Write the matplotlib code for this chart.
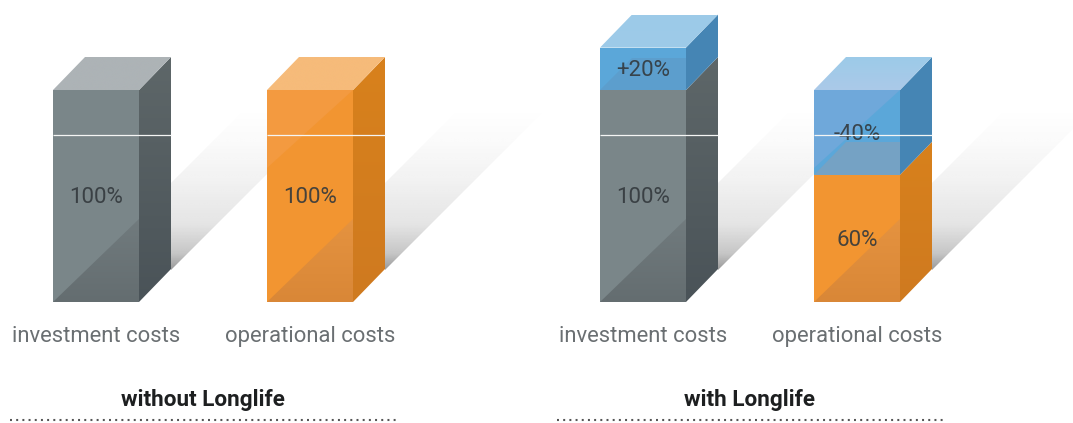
import numpy as np
import matplotlib
matplotlib.use("Agg")
import matplotlib.pyplot as plt
from matplotlib.patches import Polygon
from matplotlib.colors import to_rgb

# ---- data ----
group_titles = ["without Longlife", "with Longlife"]
categories = ["investment costs", "operational costs"]
without_base = [100, 100]
without_change = [0, 0]
with_base = [100, 60]
with_change = [20, 40]
with_change_labels = ["+20%", "-40%"]

# ---- layout (pixel-like x, percent y) ----
W, H = 1073, 423
PX_PER_PCT = 2.12
BASE_PY = 302
GROUP_LEFT = [[53, 267], [600, 814]]
BAR_W = 86
DX = 32
DY = 33 / PX_PER_PCT
TEXT_DY = 1.6 / PX_PER_PCT


def py(p):
    return (BASE_PY - p) / PX_PER_PCT


fig = plt.figure(figsize=(W / 100, H / 100), dpi=100, facecolor="white")
ax = fig.add_axes([0, 0, 1, 1])
ax.axis("off")

FONT = ["Roboto", "DejaVu Sans"]
GRAY = dict(front="#7a8689", low=("#717b7e", "#646d70"), side=("#5e6769", "#4a5358"),
            top="#adb3b6", hi=None)
ORANGE = dict(front="#f29531", low=("#e59340", "#d98737"), side=("#d8811c", "#cf7a20"),
              top="#f6bb7a", hi="#f39a40")
BLUE_FRONT = "#5ba7d9"
BLUE_SIDE = "#4585b4"
BLUE_TOP = "#9ccbe9"


def poly(verts, color, z):
    ax.add_patch(Polygon(verts, closed=True, fc=color, ec="none", lw=0, zorder=z))


def grad(verts, c_top, c_bot, z):
    """vertical colour gradient clipped to a polygon"""
    verts = np.array(verts, float)
    y0, y1 = verts[:, 1].min(), verts[:, 1].max()
    x0, x1 = verts[:, 0].min(), verts[:, 0].max()
    t = np.linspace(0, 1, 200)[:, None]
    a, b = np.array(to_rgb(c_top)), np.array(to_rgb(c_bot))
    img = (a * (1 - t) + b * t)[:, None, :]
    im = ax.imshow(img, extent=(x0, x1, y0, y1), origin="upper", aspect="auto",
                   zorder=z, interpolation="bilinear")
    p = Polygon(verts, closed=True, fc="none", ec="none", transform=ax.transData)
    ax.add_patch(p)
    im.set_clip_path(p)


def shadow(x, z=1):
    """fading cast shadow of a bar"""
    xr = x + BAR_W + DX
    v = np.array([[xr, py(270)], [xr, py(183)], [xr + 76, py(107)], [xr + 163, py(107)]])
    y0, y1 = v[:, 1].min(), v[:, 1].max()
    t = np.linspace(0, 1, 256)
    alpha = np.interp(t, [0, 0.2, 0.45, 0.72, 0.9, 1.0], [0.0, 0.02, 0.065, 0.13, 0.28, 0.5])
    img = np.zeros((256, 1, 4))
    img[:, :, :3] = 0.2
    img[:, 0, 3] = alpha
    im = ax.imshow(img, extent=(xr, xr + 163, y0, y1), origin="upper", aspect="auto",
                   zorder=z, interpolation="bilinear")
    p = Polygon(v, closed=True, fc="none", ec="none", transform=ax.transData)
    ax.add_patch(p)
    im.set_clip_path(p)


def draw_bar(x, base, change, pal, kind, base_label, change_label):
    xr = x + BAR_W
    top = base + change
    shadow(x)
    # base segment front
    poly([(x, 0), (xr, 0), (xr, base), (x, base)], pal["front"], 3)
    if pal["hi"] and base >= 100:
        poly([(x, base), (xr, base), (x, base - 78 / PX_PER_PCT)], pal["hi"], 3.5)
    # darker lower triangle
    rise = BAR_W * 0.97 / PX_PER_PCT
    tri_low = [(x, 0), (xr, 0), (xr, min(rise, base))]
    if rise > base:
        tri_low = [(x, 0), (xr, 0), (xr, base), (x + base * PX_PER_PCT / 0.97, base)]
    grad(tri_low, pal["low"][0], pal["low"][1], 4)
    # side
    grad([(xr, 0), (xr + DX, DY), (xr + DX, base + DY), (xr, base)],
         pal["side"][0], pal["side"][1], 3)
    if kind == "plain":
        grad([(x, base), (xr, base), (xr + DX, base + DY), (x + DX, base + DY)],
             pal["top"], pal["top"], 5)
    if change:
        # translucent segment
        poly([(x, base), (xr, base), (xr, top), (x, top)], BLUE_FRONT, 5)
        if kind == "minus":
            poly([(x, top), (xr, top), (x, top - 78 / PX_PER_PCT)], "#6fa8da", 5.1)
            poly([(x, base), (xr, base), (xr, base + DY), (x + DX, base + DY)], "#75a2c4", 5.2)
            grad([(x, top), (xr, top), (xr + DX, top + DY), (x + DX, top + DY)],
                 BLUE_TOP, "#abc9e8", 6)
        else:
            poly([(x, base), (xr, base), (xr, base + DY * 0.96), (x + DX, base + DY * 0.96)],
                 "#5c9ecd", 5.2)
            grad([(x, top), (xr, top), (xr + DX, top + DY), (x + DX, top + DY)],
                 BLUE_TOP, "#9ecae8", 6)
        poly([(xr, base), (xr + DX, base + DY), (xr + DX, top + DY), (xr, top)], BLUE_SIDE, 5)
    # white seam
    ax.plot([x, xr + DX], [py(135.5)] * 2, color="#f4f5f4", lw=0.9, zorder=9,
            solid_capstyle="butt")
    cx = x + BAR_W / 2
    txt = dict(ha="center", va="center", family=FONT, fontsize=16, color="#33393d", zorder=8,
               alpha=0.9)
    ax.text(cx, base / 2 - TEXT_DY, base_label, **txt)
    if change:
        ax.text(cx, base + change / 2 - TEXT_DY, change_label, **txt)


groups = [(without_base, without_change, ["", ""]),
          (with_base, with_change, with_change_labels)]
title_x = [203, 749]
rule_x = [(10, 397), (557, 943)]
for g, (bases, changes, clabels) in enumerate(groups):
    for i, cat in enumerate(categories):
        x = GROUP_LEFT[g][i]
        pal = GRAY if i == 0 else ORANGE
        kind = "plain" if not changes[i] else ("plus" if i == 0 else "minus")
        draw_bar(x, bases[i], changes[i], pal, kind, f"{bases[i]}%", clabels[i])
        ax.text(x + BAR_W / 2, py(335) - TEXT_DY, cat, ha="center", va="center", family=FONT,
                fontsize=15.8, color="#6a6f72")
    ax.text(title_x[g], py(398) - TEXT_DY, group_titles[g], ha="center", va="center", family=FONT,
            fontsize=16.2, fontweight="bold", color="#1d1f20")
    ax.plot(rule_x[g], [py(420)] * 2, color="#555555", lw=1.5,
            linestyle=(0, (0.95, 2.02)), zorder=3)

ax.set_xlim(0, W)
ax.set_ylim(py(H), py(0))
fig.savefig("out.png", dpi=100, facecolor="white")
